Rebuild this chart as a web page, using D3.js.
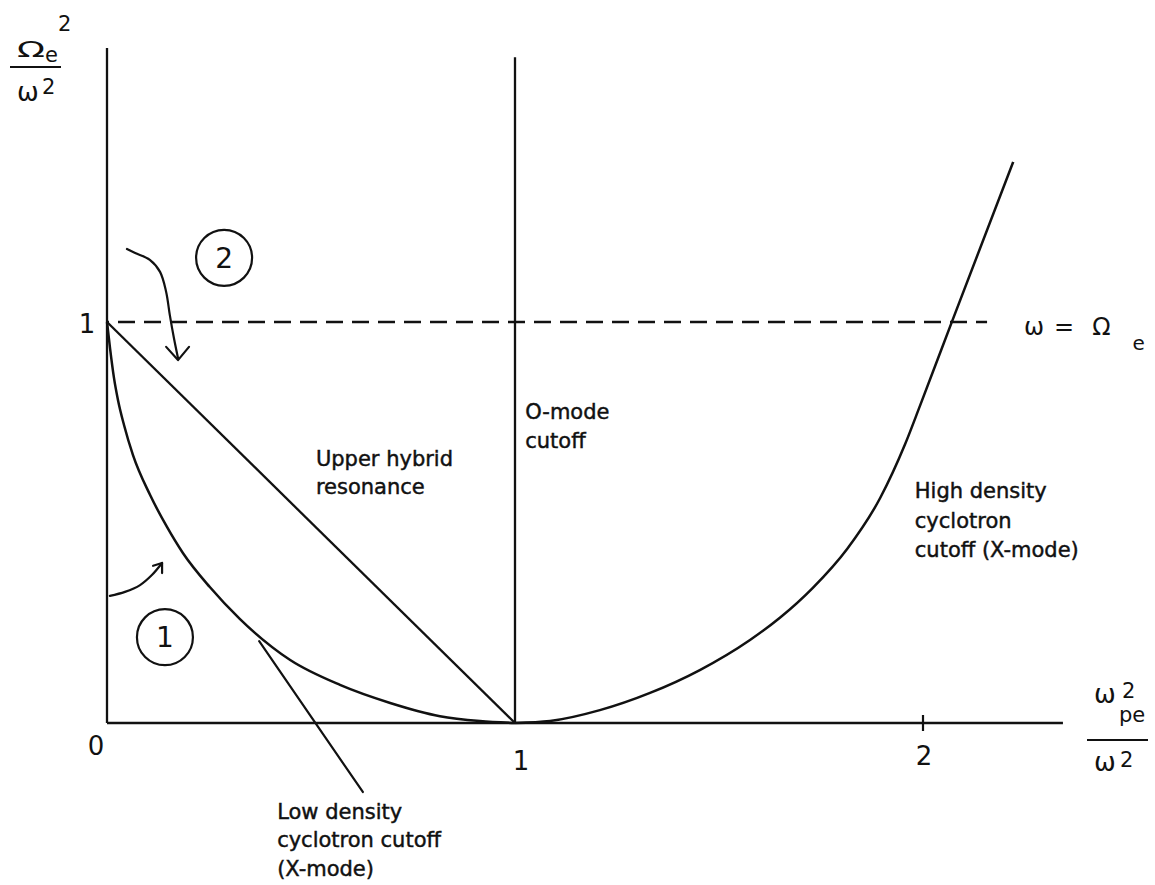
<!DOCTYPE html>
<html>
<head>
<meta charset="utf-8">
<script src="https://cdn.jsdelivr.net/npm/d3@7"></script>
<style>
  html, body { margin: 0; padding: 0; background: #fff; }
  svg { display: block; }
  text { font-family: "DejaVu Sans", sans-serif; fill: #111; }
  .lbl { stroke: #111; stroke-width: 0.45px; }
</style>
</head>
<body>
<svg id="chart" width="1155" height="885"></svg>
<script>
// Normalised density X = ωpe²/ω² versus normalised field Y = Ωe²/ω²

// Low density cyclotron cutoff (X-mode)
const lowDensityX = [0, 0.0074, 0.0172, 0.027, 0.0417, 0.0637, 0.1054, 0.147, 0.186, 0.252, 0.326, 0.449, 0.571, 0.694, 0.816, 0.914, 1.0];
const lowDensityY = [1.0, 0.935, 0.860, 0.805, 0.743, 0.668, 0.569, 0.489, 0.424, 0.339, 0.259, 0.157, 0.095, 0.050, 0.017, 0.005, 0];

// High density cyclotron cutoff (X-mode)
const highDensityX = [1.0, 1.086, 1.208, 1.331, 1.453, 1.576, 1.650, 1.730, 1.814, 1.895, 1.956, 1.993, 2.071, 2.221];
const highDensityY = [0, 0.005, 0.032, 0.075, 0.132, 0.207, 0.263, 0.337, 0.434, 0.561, 0.695, 0.792, 1.001, 1.399];

// Upper hybrid resonance
const upperHybridX = [0, 1];
const upperHybridY = [1, 0];

// O-mode cutoff (vertical at X = 1)
const oModeX = [1, 1];
const oModeY = [0, 1.66];

// ω = Ωe reference line
const cyclotronX = [0, 2.157];
const cyclotronY = [1, 1];

// Axis extents and ticks
const xAxisEnd = 2.343;
const yAxisEnd = 1.683;
const xTickLabels = ["0", "1", "2"];
const xTickValues = [0, 1, 2];
const xTickMarks = [2];
const yTickLabels = ["1"];
const yTickValues = [1];

// Annotation arrows and pointer, in data coordinates
const arrow2X = [0.049, 0.069, 0.105, 0.130, 0.145, 0.154, 0.164, 0.174];
const arrow2Y = [1.182, 1.172, 1.155, 1.125, 1.075, 1.017, 0.960, 0.910];
const arrow2HeadX = [0.145, 0.174, 0.201];
const arrow2HeadY = [0.938, 0.905, 0.938];
const arrow1X = [0.007, 0.044, 0.081, 0.110, 0.135];
const arrow1Y = [0.317, 0.327, 0.344, 0.369, 0.399];
const arrow1HeadX = [0.113, 0.135, 0.135];
const arrow1HeadY = [0.392, 0.399, 0.374];
const pointerX = [0.373, 0.627];
const pointerY = [0.204, -0.172];
const regionLabels = ["1", "2"];
const regionX = [0.142, 0.287];
const regionY = [0.214, 1.160];

const svg = d3.select("#chart");
const x = d3.scaleLinear().domain([0, 1]).range([107, 515]);
const y = d3.scaleLinear().domain([0, 1]).range([723, 322]);

const zip = (xs, ys) => xs.map((v, i) => [v, ys[i]]);
const straight = d3.line().x(d => x(d[0])).y(d => y(d[1]));
const smooth = d3.line().x(d => x(d[0])).y(d => y(d[1])).curve(d3.curveCatmullRom.alpha(0.5));
const cutoff = d3.line().x(d => x(d[0])).y(d => y(d[1])).curve(d3.curveMonotoneX);

const ink = "#111";

// Axes
svg.append("path").attr("d", straight([[0, 0], [xAxisEnd, 0]]))
  .attr("stroke", ink).attr("stroke-width", 2.3).attr("fill", "none");
svg.append("path").attr("d", straight([[0, 0], [0, yAxisEnd]]))
  .attr("stroke", ink).attr("stroke-width", 2.3).attr("fill", "none");

// Tick mark on the density axis
svg.selectAll(".xtick").data(xTickMarks).join("line")
  .attr("x1", d => x(d)).attr("x2", d => x(d))
  .attr("y1", y(0) - 8).attr("y2", y(0) + 8)
  .attr("stroke", ink).attr("stroke-width", 2.2);

// Tick labels
const xLabelDy = [32, 47, 42];
const xLabelDx = [-11, 6, 1];
svg.selectAll(".xlab").data(xTickValues).join("text")
  .attr("x", (d, i) => x(d) + xLabelDx[i])
  .attr("y", (d, i) => y(0) + xLabelDy[i])
  .attr("text-anchor", "middle").attr("font-size", 26)
  .text((d, i) => xTickLabels[i]);
svg.selectAll(".ylab").data(yTickValues).join("text")
  .attr("x", x(0) - 20).attr("y", d => y(d) + 11)
  .attr("text-anchor", "middle").attr("font-size", 26)
  .text((d, i) => yTickLabels[i]);

// ω = Ωe dashed line
svg.append("path").attr("d", straight(zip(cyclotronX, cyclotronY)))
  .attr("stroke", ink).attr("stroke-width", 2.4).attr("fill", "none")
  .attr("stroke-dasharray", "17,9").attr("stroke-dashoffset", -11);

// O-mode cutoff
svg.append("path").attr("d", straight(zip(oModeX, oModeY)))
  .attr("stroke", ink).attr("stroke-width", 2.3).attr("fill", "none");

// Upper hybrid resonance
svg.append("path").attr("d", straight(zip(upperHybridX, upperHybridY)))
  .attr("stroke", ink).attr("stroke-width", 2.3).attr("fill", "none");

// Cyclotron cutoffs
svg.append("path").attr("d", cutoff(zip(lowDensityX, lowDensityY)))
  .attr("stroke", ink).attr("stroke-width", 2.5).attr("fill", "none");
svg.append("path").attr("d", cutoff(zip(highDensityX, highDensityY)))
  .attr("stroke", ink).attr("stroke-width", 2.5).attr("fill", "none");

// Annotation arrows
const thin = p => p.attr("stroke", ink).attr("stroke-width", 2.2).attr("fill", "none")
  .attr("stroke-linecap", "round").attr("stroke-linejoin", "round");
thin(svg.append("path").attr("d", smooth(zip(arrow2X, arrow2Y))));
thin(svg.append("path").attr("d", straight(zip(arrow2HeadX, arrow2HeadY))));
thin(svg.append("path").attr("d", smooth(zip(arrow1X, arrow1Y))));
thin(svg.append("path").attr("d", straight(zip(arrow1HeadX, arrow1HeadY))));
thin(svg.append("path").attr("d", straight(zip(pointerX, pointerY))).attr("stroke-width", 2));

// Region markers
const regions = svg.selectAll(".region").data(regionLabels).join("g")
  .attr("transform", (d, i) => `translate(${x(regionX[i])},${y(regionY[i])})`);
regions.append("circle").attr("r", 28).attr("fill", "none")
  .attr("stroke", ink).attr("stroke-width", 2.2);
regions.append("text").attr("text-anchor", "middle").attr("y", 10)
  .attr("font-size", 28).text(d => d);

// Curve labels
function block(lines, px, py, lh, size) {
  const t = svg.append("text").attr("class", "lbl").attr("font-size", size);
  lines.forEach((s, i) => t.append("tspan").attr("x", px).attr("y", py + i * lh).text(s));
}
block(["Upper hybrid", "resonance"], x(0.512), y(0.640), 28, 21);
block(["O-mode", "cutoff"], x(1.025), y(0.759), 29, 21);
block(["High density", "cyclotron", "cutoff (X-mode)"], x(1.98), y(0.561), 29.5, 21);
block(["Low density", "cyclotron cutoff", "(X-mode)"], x(0.417), y(-0.239), 28.5, 21);

// ω = Ωe label
const wl = svg.append("text").attr("x", 1024).attr("y", y(1) + 13).attr("font-size", 24);
wl.append("tspan").text("ω");
wl.append("tspan").attr("dx", 10).text("=");
wl.append("tspan").attr("dx", 18).text("Ω");
wl.append("tspan").attr("dx", 22).attr("dy", 15).attr("font-size", 20).text("e");

// Vertical axis title Ωe² / ω²
svg.append("text").attr("x", 17).attr("y", 57).attr("font-size", 21)
  .attr("textLength", 28).attr("lengthAdjust", "spacingAndGlyphs").text("Ω");
svg.append("text").attr("x", 45).attr("y", 62).attr("font-size", 21).text("e");
svg.append("text").attr("x", 58).attr("y", 31).attr("font-size", 21).text("2");
svg.append("line").attr("x1", 10).attr("x2", 61).attr("y1", 67).attr("y2", 67)
  .attr("stroke", ink).attr("stroke-width", 2.2);
svg.append("text").attr("x", 17).attr("y", 101).attr("font-size", 26).text("ω");
svg.append("text").attr("x", 42).attr("y", 94).attr("font-size", 21).text("2");

// Horizontal axis title ωpe² / ω²
svg.append("text").attr("x", 1094).attr("y", 703).attr("font-size", 26).text("ω");
svg.append("text").attr("x", 1122).attr("y", 698).attr("font-size", 21).text("2");
svg.append("text").attr("x", 1119).attr("y", 722).attr("font-size", 21).text("pe");
svg.append("line").attr("x1", 1087).attr("x2", 1148).attr("y1", 740).attr("y2", 740)
  .attr("stroke", ink).attr("stroke-width", 2.2);
svg.append("text").attr("x", 1094).attr("y", 771).attr("font-size", 26).text("ω");
svg.append("text").attr("x", 1120).attr("y", 767).attr("font-size", 21).text("2");
</script>
</body>
</html>
